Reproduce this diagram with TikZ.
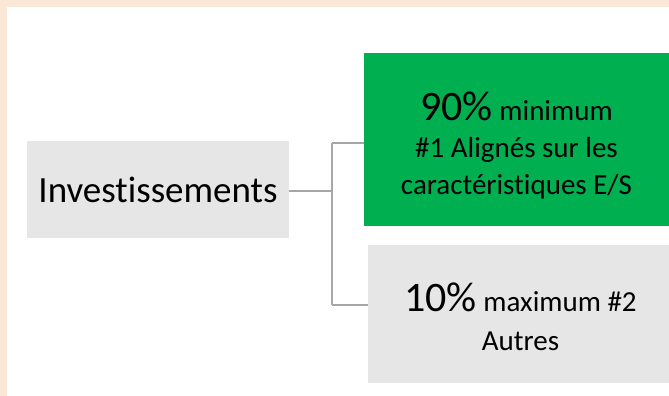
\documentclass[tikz,border=0pt]{standalone}
\usepackage{fontspec}
\setmainfont{Carlito}[Ligatures=NoCommon]
\usepackage{tikz}
\usetikzlibrary{positioning}

\definecolor{peach}{HTML}{FBE7D6}
\definecolor{boxgrey}{HTML}{E7E6E6}
\definecolor{boxgreen}{HTML}{00B050}
\definecolor{linegrey}{HTML}{A6A6A6}

\newcommand{\bignum}[1]{{\fontsize{42}{42}\selectfont #1}}

\begin{document}
\begin{tikzpicture}
	[x=1pt,y=1pt,every node/.style={rectangle,inner sep=0pt,align=center,text=black},
	 every label/.style={font=\fontsize{29}{37}\selectfont}]
	\useasboundingbox (0,0) rectangle (669,396);
	\fill[white] (0,0) rectangle (669,396);
	\fill[peach] (0,389) rectangle (669,396);
	\fill[peach] (0,0) rectangle (7,396);

	\node[style={fill=boxgrey,minimum width=262pt,minimum height=97pt},font=\fontsize{37}{44}\selectfont] (inv) at (158,206.5) {Investissements};
	\node[style={fill=boxgreen,minimum width=305pt,minimum height=173pt},
	  label={[yshift=-6pt]center:{\bignum{90\%} minimum\\\#1 Alignés sur les\\caractéristiques E/S}}] (alig) at (516.5,256.5) {};
	\node[style={fill=boxgrey,minimum width=301pt,minimum height=138pt},
	  label={[yshift=-3pt,xshift=2pt]center:{\bignum{10\%} maximum \#2\\[2pt]Autres}}] (autr) at (518.5,82) {};

	\coordinate (jA) at (332,253);
	\coordinate (jB) at (332,91);
	\coordinate (jI) at (332,205);

	\foreach \from/\to in
	{{inv.east |- jI}/jI, jA/jB, jA/{alig.west |- jA}, jB/{autr.west |- jB}}
	\draw[linegrey,line width=1.5pt] (\from) -- (\to);
\end{tikzpicture}
\end{document}
